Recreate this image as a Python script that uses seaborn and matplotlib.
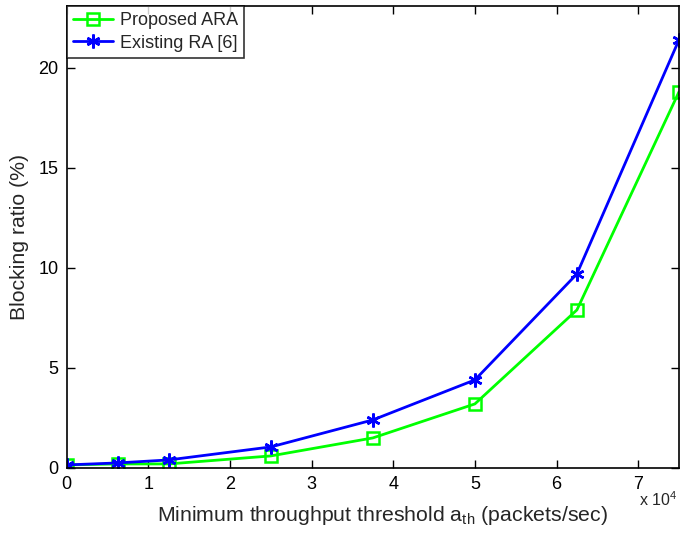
import matplotlib
matplotlib.use("Agg")
import matplotlib.pyplot as plt
from matplotlib.lines import Line2D
import seaborn as sns

# Minimum throughput threshold (x 10^4 packets/sec)
threshold = [0, 0.625, 1.25, 2.5, 3.75, 5.0, 6.25, 7.5]
# Blocking ratio (%)
proposed_ara = [0.15, 0.2, 0.2, 0.6, 1.5, 3.2, 7.9, 18.8]
existing_ra = [0.15, 0.25, 0.4, 1.05, 2.4, 4.4, 9.7, 21.4]
series_names = ["Proposed ARA", "Existing RA [6]"]
x_ticks = [0, 1, 2, 3, 4, 5, 6, 7]
y_ticks = [0, 5, 10, 15, 20]

sns.set_theme(style="white")
plt.rcParams["font.family"] = ["Liberation Sans", "DejaVu Sans"]
plt.rcParams["mathtext.fontset"] = "custom"
plt.rcParams["mathtext.rm"] = "Liberation Sans"
plt.rcParams["mathtext.it"] = "Liberation Sans"

fig = plt.figure(figsize=(6.81, 5.36), dpi=100)
ax = fig.add_axes([0.098, 0.127, 0.899, 0.862])

GREEN = "#00ff00"
BLUE = "#0000ff"
ASTERISK = (6, 2, 0)

sns.lineplot(x=threshold, y=proposed_ara, color=GREEN, linewidth=2,
             marker="s", markersize=8.5, markerfacecolor="none",
             markeredgecolor=GREEN, markeredgewidth=1.8, ax=ax)
sns.lineplot(x=threshold, y=existing_ra, color=BLUE, linewidth=2,
             marker=ASTERISK, markersize=10, markeredgecolor=BLUE,
             markeredgewidth=1.8, ax=ax)

ax.set_xlim(0, 7.5)
ax.set_ylim(0, 23.1)
ax.set_xticks(x_ticks)
ax.set_yticks(y_ticks)
ax.tick_params(direction="in", length=6, width=1, labelsize=13, colors="black",
               top=True, right=True, bottom=True, left=True, pad=6)
for s in ax.spines.values():
    s.set_visible(True)
    s.set_color("black")
    s.set_linewidth(1.2)

ax.set_xlabel("Minimum throughput threshold a$_{\\mathrm{th}}$ (packets/sec)",
              fontsize=15.3, labelpad=8)
ax.xaxis.label.set_x(0.516)
ax.set_ylabel("Blocking ratio (%)", fontsize=15.3, labelpad=7)
fig.text(0.938, 0.056, "x 10$^{4}$", fontsize=11.5, va="baseline")

handles = [
    Line2D([], [], color=GREEN, lw=2, marker="s", markersize=8.5,
           markerfacecolor="none", markeredgewidth=1.8),
    Line2D([], [], color=BLUE, lw=2, marker=ASTERISK, markersize=10,
           markeredgewidth=1.8),
]
leg = ax.legend(handles, series_names, loc="upper left", fontsize=13,
                frameon=True, fancybox=False, edgecolor="black",
                borderaxespad=0.0, handlelength=2.2, borderpad=0.35,
                labelspacing=0.3, handletextpad=0.4)
leg.get_frame().set_linewidth(1.2)

fig.savefig("out.png", dpi=100)
